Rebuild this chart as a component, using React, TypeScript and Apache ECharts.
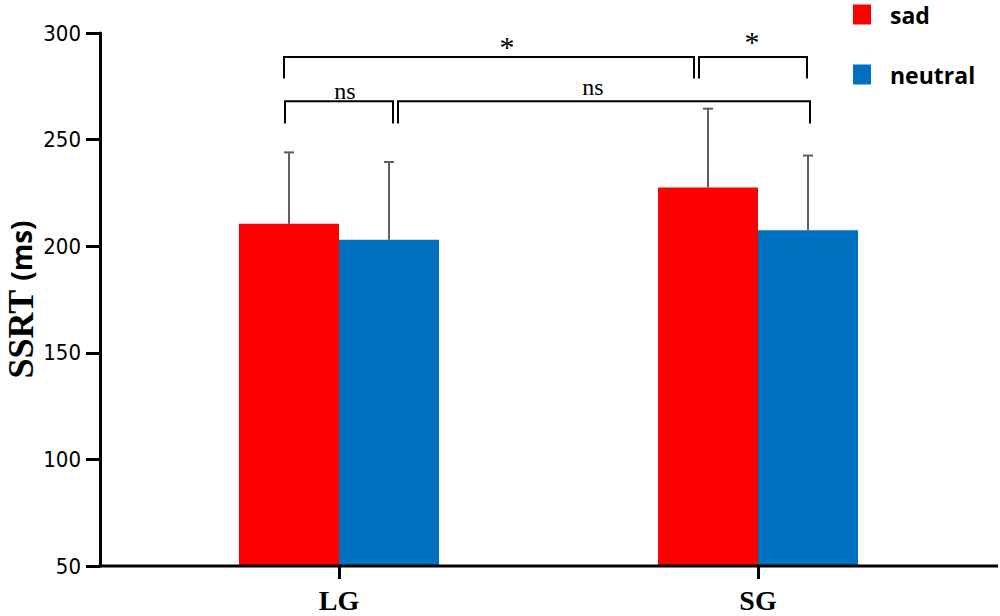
import React, { useEffect, useRef } from "react";
import * as echarts from "echarts";

const categories = ["LG", "SG"];
const seriesNames = ["sad", "neutral"];
const sadMean = [210.5, 227.5];
const neutralMean = [203, 207.5];
const sadSD = [33.5, 37];
const neutralSD = [36.5, 35];
const yMin = 50;
const yMax = 300;
const yInterval = 50;

// significance annotations
const brackets = [
  { from: [0, -55], to: [1, -64], level: 288.7, drop: 10, label: "*", labelAt: [0, 168], labelY: 293.5 },
  { from: [1, -59], to: [1, 49], level: 288.7, drop: 10, label: "*", labelAt: [1, -6], labelY: 296 },
  { from: [0, -54], to: [0, 54], level: 268, drop: 10.5, label: "ns", labelAt: [0, 6], labelY: 273 },
  { from: [0, 59], to: [1, 52], level: 268, drop: 10.5, label: "ns", labelAt: [0, 254], labelY: 274.5 },
];

const GRID_LEFT = 129.5;
const GRID_RIGHT = 32.5;
const GRID_TOP = 33;
const GRID_BOTTOM = 50;
const Y_OFFSET = 29.5;
const BAR_W = 100;

export default function App() {
  const ref = useRef<HTMLDivElement>(null);
  useEffect(() => {
    if (!ref.current) return;
    const chart = echarts.init(ref.current, null, { renderer: "svg" });
    const errRender = (dx: number) => (params: any, api: any) => {
      const c = api.value(0);
      const lo = api.coord([c, api.value(1)]);
      const hi = api.coord([c, api.value(2)]);
      const x = lo[0] + dx;
      const st = { stroke: "#5f5f5f", lineWidth: 2 };
      return {
        type: "group",
        children: [
          { type: "line", shape: { x1: x, y1: lo[1], x2: x, y2: hi[1] }, style: st },
          { type: "line", shape: { x1: x - 5, y1: hi[1], x2: x + 5, y2: hi[1] }, style: st },
        ],
      };
    };
    const option: any = {
      animation: false,
      grid: {
        left: GRID_LEFT,
        right: GRID_RIGHT,
        top: GRID_TOP,
        bottom: GRID_BOTTOM,
        containLabel: false,
        outerBoundsMode: "none",
      },
      legend: {
        data: seriesNames,
        orient: "vertical",
        left: 853,
        top: 3,
        padding: 0,
        icon: "rect",
        itemWidth: 18,
        itemHeight: 20,
        itemGap: 37,
        textStyle: {
          fontFamily: "Open Sans",
          fontWeight: "bold",
          fontSize: 23,
          color: "#000",
          lineHeight: 20,
          padding: [0, 0, 0, 14],
        },
      },
      xAxis: {
        type: "category",
        data: categories,
        axisLine: { show: false },
        axisTick: { show: true, alignWithLabel: true, length: 13, lineStyle: { color: "#000", width: 3 } },
        axisLabel: {
          margin: 20,
          color: "#000",
          fontFamily: "Liberation Serif",
          fontWeight: "bold",
          fontSize: 28,
        },
      },
      yAxis: {
        type: "value",
        min: yMin,
        max: yMax,
        interval: yInterval,
        offset: Y_OFFSET,
        splitLine: { show: false },
        axisLine: { show: true, lineStyle: { color: "#000", width: 3 } },
        axisTick: { show: true, length: 14, lineStyle: { color: "#000", width: 3 } },
        axisLabel: {
          margin: 19,
          color: "#000",
          fontFamily: "DejaVu Sans Condensed",
          fontSize: 22,
        },
        name: "{a|SSRT}{b|(ms)}",
        nameLocation: "middle",
        nameRotate: 90,
        nameGap: 64,
        nameMoveOverlap: false,
        nameTextStyle: {
          lineHeight: 30,
          rich: {
            a: { fontFamily: "Liberation Serif", fontWeight: "bold", fontSize: 36, lineHeight: 30, color: "#000" },
            b: { fontFamily: "Open Sans", fontWeight: "bold", fontSize: 28, lineHeight: 30, color: "#000", padding: [0, 0, 0, 9] },
          },
        },
      },
      series: [
        {
          name: seriesNames[0],
          type: "bar",
          data: sadMean,
          barWidth: BAR_W,
          barGap: "0%",
          itemStyle: { color: "#FF0000" },
        },
        {
          name: seriesNames[1],
          type: "bar",
          data: neutralMean,
          barWidth: BAR_W,
          barGap: "0%",
          itemStyle: { color: "#0070C0" },
        },
        {
          type: "custom",
          renderItem: errRender(-BAR_W / 2),
          data: sadMean.map((m, i) => [i, m, m + sadSD[i]]),
          encode: { x: 0, y: [1, 2] },
          z: 1,
        },
        {
          type: "custom",
          renderItem: errRender(BAR_W / 2),
          data: neutralMean.map((m, i) => [i, m, m + neutralSD[i]]),
          encode: { x: 0, y: [1, 2] },
          z: 1,
        },
      ],
    };
    chart.setOption(option);

    const px = (cat: number, off: number) =>
      (chart.convertToPixel({ xAxisIndex: 0 }, categories[cat]) as number) + off;
    const py = (v: number) => chart.convertToPixel({ yAxisIndex: 0 }, v) as number;
    const lineStyle = { stroke: "#000", lineWidth: 2 };
    const graphics: any[] = [];
    const axisY = py(yMin);
    graphics.push({
      type: "line",
      shape: { x1: GRID_LEFT - Y_OFFSET - 1.5, y1: axisY, x2: 998, y2: axisY },
      style: { stroke: "#000", lineWidth: 3 },
      z: 10,
    });
    brackets.forEach((b) => {
      const x1 = px(b.from[0], b.from[1]);
      const x2 = px(b.to[0], b.to[1]);
      const yl = py(b.level);
      const yd = py(b.level - b.drop);
      graphics.push({
        type: "polyline",
        shape: { points: [[x1, yd], [x1, yl], [x2, yl], [x2, yd]] },
        style: { ...lineStyle, fill: null },
      });
      graphics.push({
        type: "text",
        x: px(b.labelAt[0], b.labelAt[1]),
        y: py(b.labelY),
        style: {
          text: b.label,
          fontFamily: "Liberation Serif",
          fontSize: b.label === "*" ? 30 : 24,
          fill: "#000",
          align: "center",
          verticalAlign: "middle",
        },
      });
    });
    chart.setOption({ graphic: graphics });
    return () => chart.dispose();
  }, []);
  return (
    <div
      ref={ref}
      style={{ position: "fixed", left: 0, top: 0, width: 1000, height: 616, background: "#fff" }}
    />
  );
}
